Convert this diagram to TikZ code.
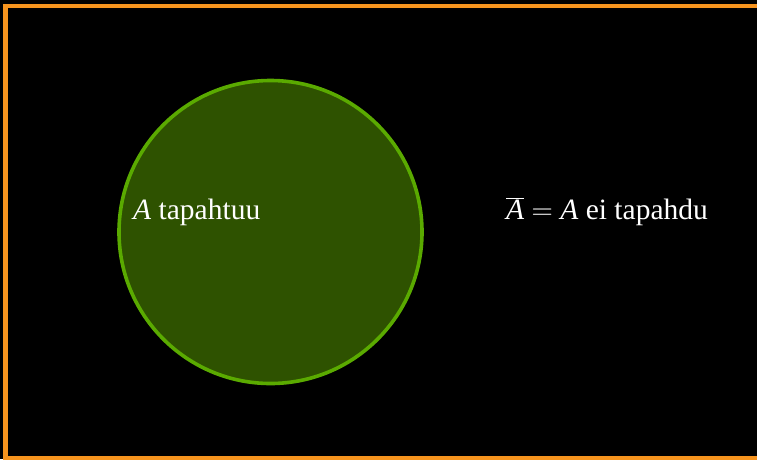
\documentclass[tikz,border=0pt]{standalone}
\usepackage{fontspec}
\setmainfont{Liberation Serif}
\newfontfamily\lmfont{Latin Modern Roman}
\begin{document}
\begin{tikzpicture}[x=1pt,y=-1pt,
  lbl/.style={text=white,anchor=base west,inner sep=0pt,font=\fontsize{29.5}{35}\selectfont}]
\definecolor{frameorange}{RGB}{247,148,30}
\definecolor{fillgreen}{RGB}{46,82,0}
\definecolor{edgegreen}{RGB}{90,170,0}
\useasboundingbox (0,0) rectangle (757,459);
\fill[black] (0,0) rectangle (757,459);
\draw[frameorange,line width=4.2pt] (5.4,5.6) rectangle (770,458.5);
\draw[edgegreen,fill=fillgreen,line width=3.6pt] (270.5,232) circle (151.5);
\node[lbl] (a) at (133,219) {\textit{A} tapahtuu};
\node[lbl] (abar) at (506,219) {$\overline{\mbox{\itshape A\/}}$\hspace{0.25em}{\lmfont =}\hspace{0.25em}\textit{A} ei tapahdu};
\end{tikzpicture}
\end{document}
